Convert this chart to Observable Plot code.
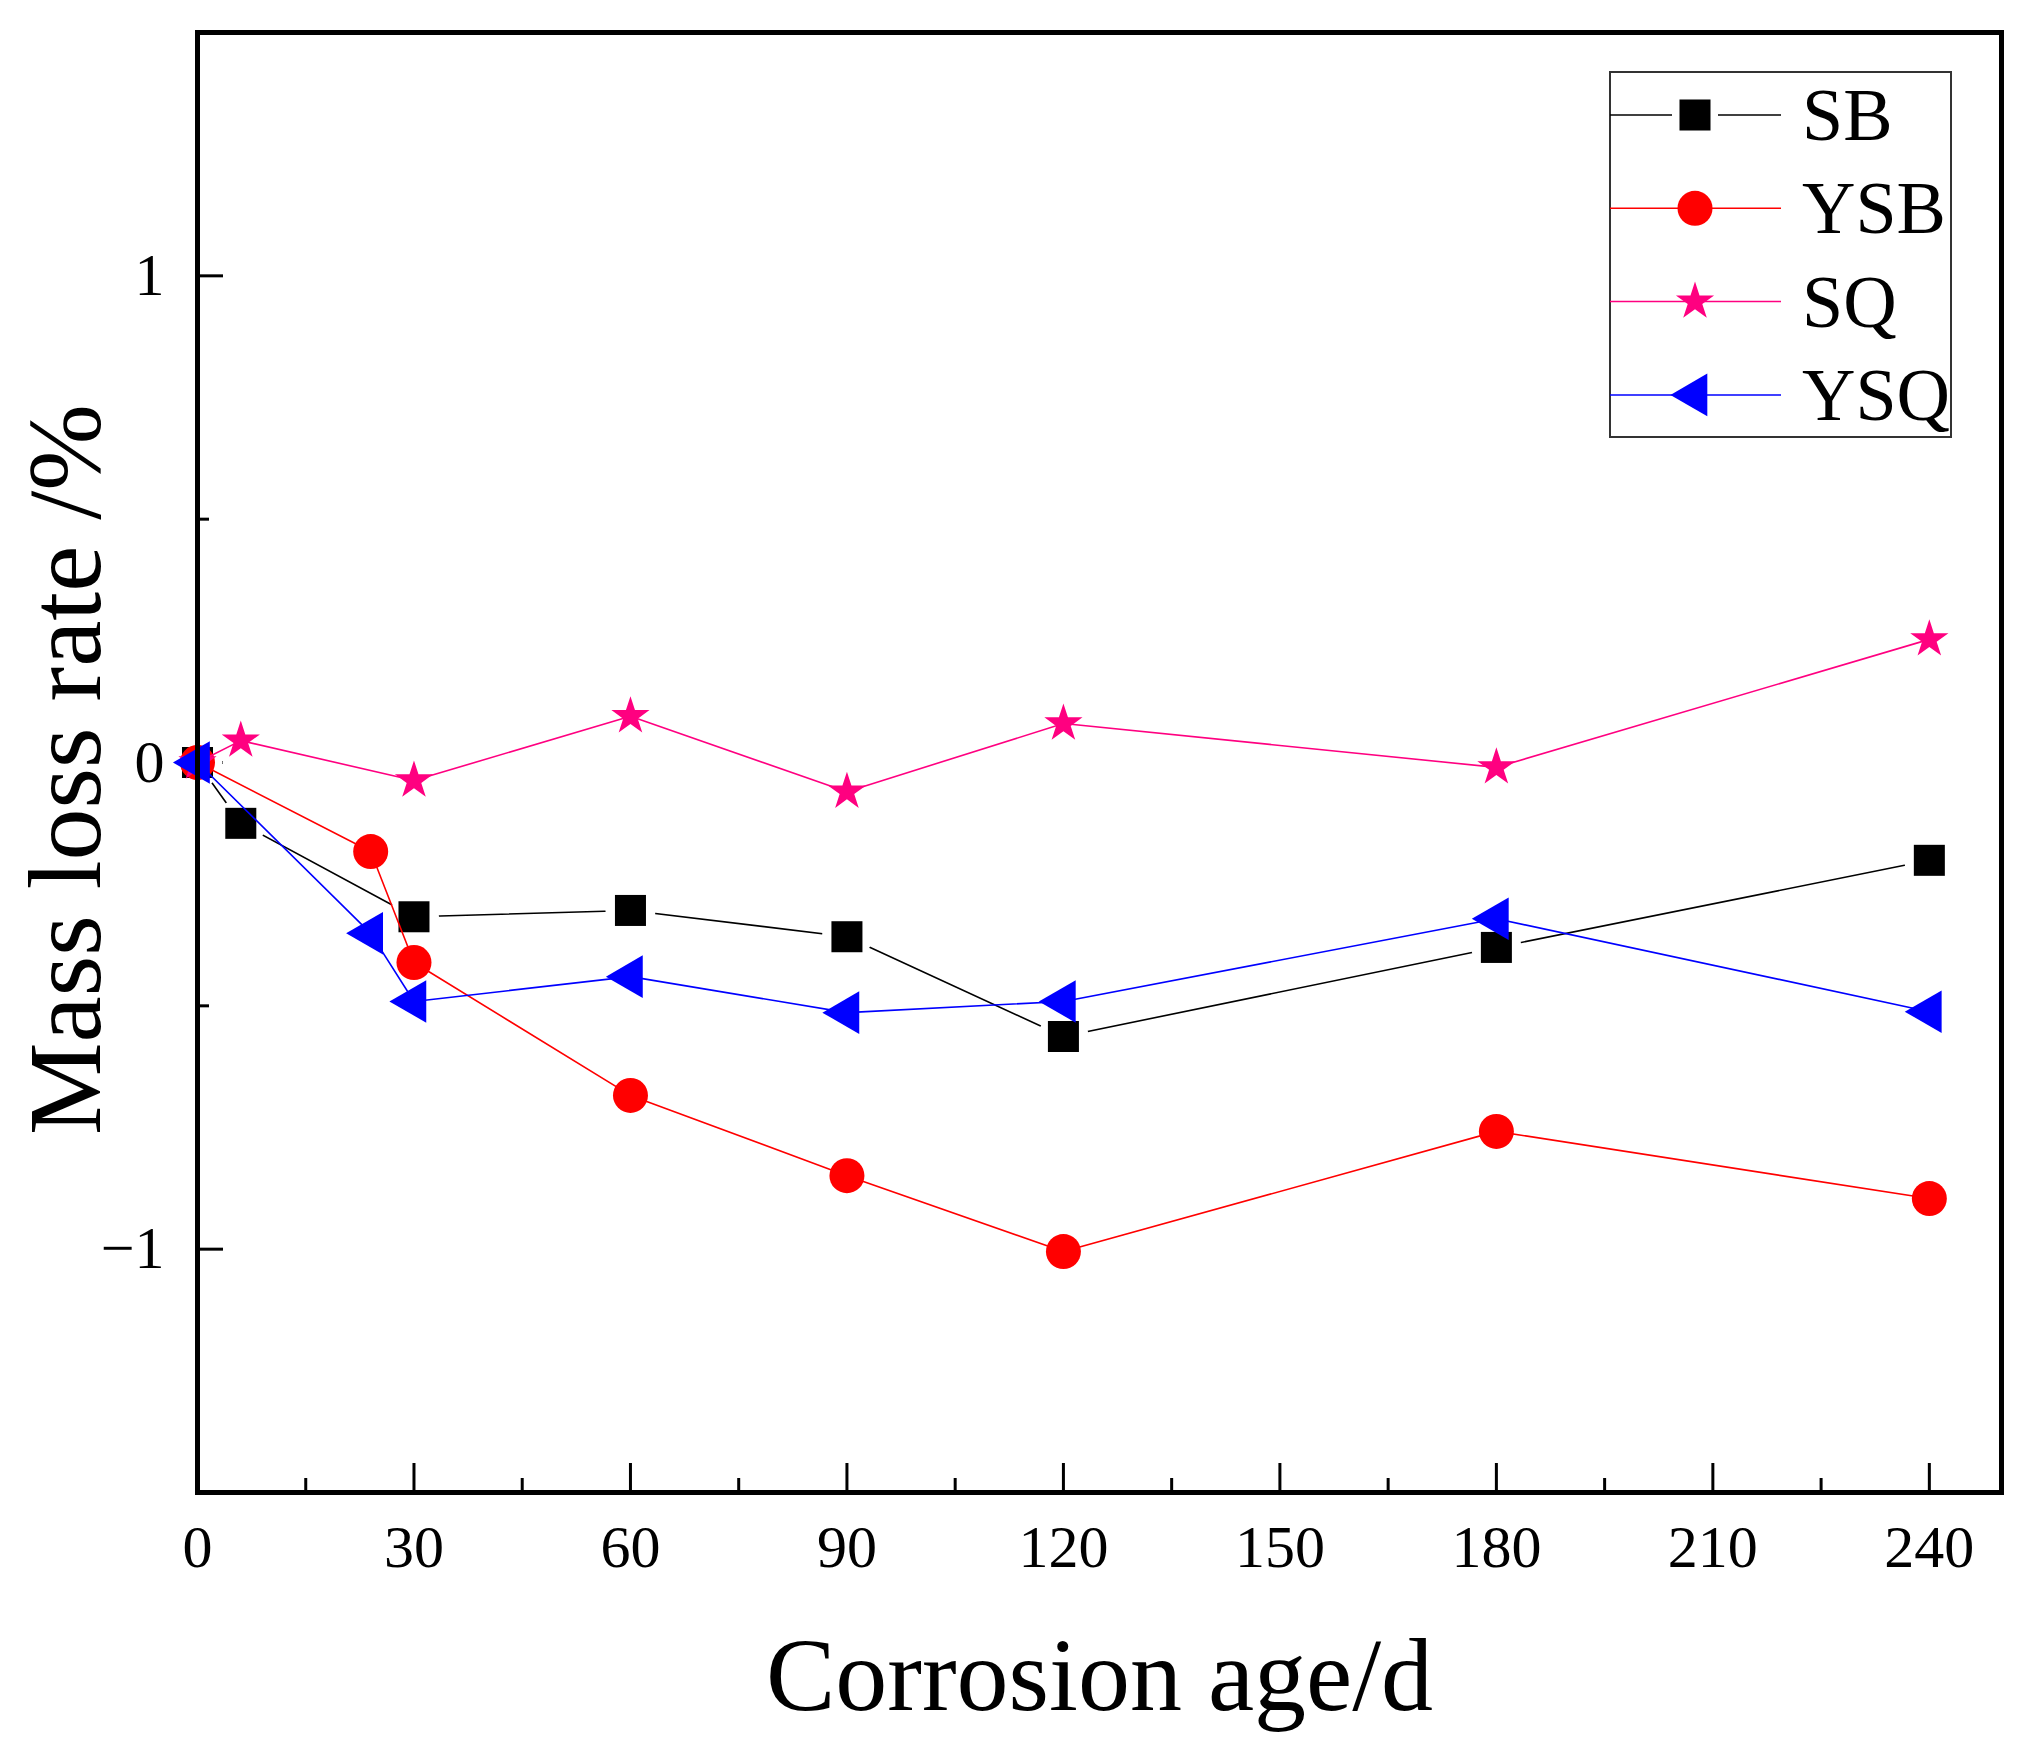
<!DOCTYPE html>
<html><head><meta charset="utf-8">
<script src="https://cdn.jsdelivr.net/npm/d3@7"></script>
<script src="https://cdn.jsdelivr.net/npm/@observablehq/plot@0.6"></script>
<style>
html,body{margin:0;padding:0;background:#fff;}
#wrap{position:relative;width:2025px;height:1751px;}
</style></head><body><div id="wrap"></div>
<script>
const seriesNames = ["SB", "YSB", "SQ", "YSQ"];
const seriesColors = ["#000000", "#FF0000", "#FF0080", "#0000FF"];
const seriesSymbols = ["square", "circle", "star", "triangle"];

const SB_x = [0, 6, 30, 60, 90, 120, 180, 240];
const SB_y = [0, -0.125, -0.317, -0.304, -0.358, -0.563, -0.380, -0.201];
const YSB_x = [0, 24, 30, 60, 90, 120, 180, 240];
const YSB_y = [0, -0.183, -0.411, -0.684, -0.849, -1.005, -0.758, -0.896];
const SQ_x = [0, 6, 30, 60, 90, 120, 180, 240];
const SQ_y = [0, 0.045, -0.037, 0.095, -0.060, 0.080, -0.010, 0.253];
const YSQ_x = [0, 24, 30, 60, 90, 120, 180, 240];
const YSQ_y = [0, -0.351, -0.491, -0.440, -0.514, -0.491, -0.321, -0.512];

const xMajorTicks = [0, 30, 60, 90, 120, 150, 180, 210, 240];
const xMinorTicks = [15, 45, 75, 105, 135, 165, 195, 225];
const yMajorTicks = [-1, 0, 1];
const yMinorTicks = [-0.5, 0.5];

const xLabel = "Corrosion age/d";
const yLabel = "Mass loss rate /%";

function rows(name, xs, ys) { return xs.map((x, i) => ({series: name, day: x, rate: ys[i]})); }
const SB = rows("SB", SB_x, SB_y);
const YSB = rows("YSB", YSB_x, YSB_y);
const SQ = rows("SQ", SQ_x, SQ_y);
const YSQ = rows("YSQ", YSQ_x, YSQ_y);

const font = "'Liberation Serif', 'Times New Roman', serif";
const lw = 1.6;

const chart = Plot.plot({
  width: 2025, height: 1751,
  marginLeft: 197, marginRight: 24, marginTop: 32, marginBottom: 259,
  style: {fontFamily: font, fontSize: "60px", background: "white", color: "black", overflow: "visible"},
  x: {domain: [0, 250]},
  y: {domain: [-1.5, 1.5]},
  marks: [
    Plot.axisX({ticks: xMajorTicks, tickSize: -29, tickPadding: 61, strokeWidth: 3, label: null, fontSize: 60, tickFormat: d3.format("d")}),
    Plot.axisX({ticks: xMinorTicks, tickSize: -14, strokeWidth: 3, text: null, label: null}),
    Plot.axisY({ticks: yMajorTicks, tickSize: -26, tickPadding: 59, strokeWidth: 3, label: null, fontSize: 60, tickFormat: d3.format("d")}),
    Plot.axisY({ticks: yMinorTicks, tickSize: -12, strokeWidth: 3, text: null, label: null}),
    Plot.line(SB, {x: "day", y: "rate", stroke: seriesColors[0], strokeWidth: lw}),
    Plot.dot(SB, {x: "day", y: "rate", symbol: "circle", r: 25, fill: "white", stroke: null}),
    Plot.dot(SB, {x: "day", y: "rate", symbol: "square", r: 17.5, fill: seriesColors[0], stroke: null}),
    Plot.line(YSB, {x: "day", y: "rate", stroke: seriesColors[1], strokeWidth: lw}),
    Plot.dot(YSB, {x: "day", y: "rate", symbol: "circle", r: 17.5, fill: seriesColors[1], stroke: null}),
    Plot.line(SQ, {x: "day", y: "rate", stroke: seriesColors[2], strokeWidth: lw}),
    Plot.dot(SQ, {x: "day", y: "rate", symbol: "star", r: 12, fill: seriesColors[2], stroke: null}),
    Plot.line(YSQ, {x: "day", y: "rate", stroke: seriesColors[3], strokeWidth: lw}),
    Plot.dot(YSQ, {x: "day", y: "rate", symbol: "triangle", r: 15.8, rotate: -90, fill: seriesColors[3], stroke: null}),
    Plot.frame({strokeWidth: 5}),
    Plot.text([xLabel], {frameAnchor: "bottom", dy: 217, fontSize: 104, lineAnchor: "bottom", textAnchor: "middle"}),
    Plot.text([yLabel], {frameAnchor: "left", rotate: -90, dx: -98, dy: 7, fontSize: 104, lineAnchor: "bottom", textAnchor: "middle"})
  ]
});
document.getElementById("wrap").appendChild(chart);

// Legend (inside the plot area, top right)
const svg = d3.select(chart);
const lg = svg.append("g").attr("class", "legend");
const boxX = 1610, boxY = 72, boxW = 341, boxH = 365;
lg.append("rect").attr("x", boxX).attr("y", boxY).attr("width", boxW).attr("height", boxH)
  .attr("fill", "white").attr("stroke", "#333").attr("stroke-width", 2);
const rowH = 93.3, row0 = 115;
const symMap = {square: d3.symbolSquare, circle: d3.symbolCircle, star: d3.symbolStar, triangle: d3.symbolTriangle};
const symR = {square: 17.5, circle: 17.5, star: 12, triangle: 15.8};
seriesNames.forEach((name, i) => {
  const cy = row0 + i * rowH;
  const col = seriesColors[i];
  const sym = seriesSymbols[i];
  if (sym === "square") {
    lg.append("line").attr("x1", boxX).attr("x2", 1672).attr("y1", cy).attr("y2", cy).attr("stroke", col).attr("stroke-width", 1.5);
    lg.append("line").attr("x1", 1718).attr("x2", 1781).attr("y1", cy).attr("y2", cy).attr("stroke", col).attr("stroke-width", 1.5);
  } else {
    lg.append("line").attr("x1", boxX).attr("x2", 1781).attr("y1", cy).attr("y2", cy).attr("stroke", col).attr("stroke-width", 1.5);
  }
  const r = symR[sym];
  lg.append("path")
    .attr("d", d3.symbol(symMap[sym], Math.PI * r * r)())
    .attr("transform", `translate(1695,${cy})` + (sym === "triangle" ? " rotate(-90)" : ""))
    .attr("fill", col);
  lg.append("text").attr("x", 1802).attr("y", cy + 25).text(name)
    .attr("text-anchor", "start")
    .attr("font-family", font).attr("font-size", 74).attr("fill", "black");
});
</script></body></html>
